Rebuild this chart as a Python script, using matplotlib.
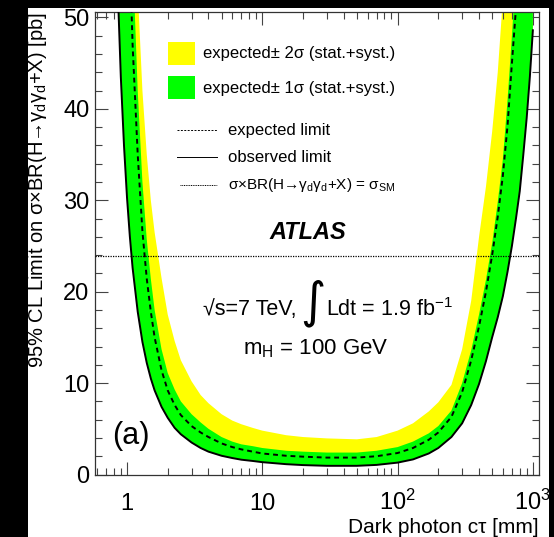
import matplotlib
matplotlib.use("Agg")
import matplotlib.pyplot as plt
from matplotlib.patches import Rectangle
from matplotlib.lines import Line2D
from matplotlib.ticker import FixedLocator, LogLocator, MultipleLocator, NullFormatter, FixedFormatter

plt.rcParams['font.family'] = ['Liberation Sans', 'DejaVu Sans']
plt.rcParams['mathtext.fontset'] = 'custom'
plt.rcParams['mathtext.rm'] = 'Liberation Sans'
plt.rcParams['mathtext.it'] = 'Liberation Sans:italic'
plt.rcParams['mathtext.bf'] = 'Liberation Sans:bold'

# dark photon proper decay length [mm]
ctau = [0.8, 0.85, 0.9, 0.95, 1.0, 1.05, 1.1, 1.2, 1.3, 1.4, 1.5, 1.6, 1.8, 2.0, 2.25,
        2.5, 3.0, 3.5, 4.0, 5.0, 6.0, 7.0, 8.5, 10, 15, 20, 30, 50, 70, 100, 130, 170,
        200, 250, 300, 350, 400, 450, 500, 550, 600, 650, 700, 750, 800, 850, 900, 950, 1000]

# 95% CL limits [pb]
observed = [69, 54, 43.5, 36, 30.3, 26, 22.6, 17.8, 14.5, 12.2, 10.5, 9.2, 7.4, 6.2, 5.1,
            4.4, 3.5, 2.9, 2.5, 2.05, 1.8, 1.62, 1.48, 1.35, 1.13, 1.03, 0.95, 0.95, 1.05, 1.3, 1.65, 2.3,
            2.9, 4.1, 5.6, 7.6, 9.9, 12.4, 15, 17.2, 19.5, 22.2, 25, 28, 31, 35, 39, 43.5, 48.6]
expected = [190, 141, 108, 85, 69, 56.3, 47, 35, 26.6, 21.4, 17.8, 15.0, 11.4, 9.2, 7.6,
            6.5, 5.3, 4.6, 4.1, 3.4, 3.0, 2.75, 2.5, 2.3, 2.05, 1.95, 1.85, 1.85, 2.0, 2.35, 2.9, 3.8,
            4.6, 6.3, 9.0, 12.5, 16.2, 20, 24, 28.2, 32.7, 38.2, 45, 51, 57, 63, 70, 77, 85]
expected_up1 = [230, 170, 130, 102, 83, 68, 57, 42, 32, 25.7, 21.4, 18, 13.7, 11.1, 9.3,
                8.0, 6.6, 5.7, 5.0, 4.1, 3.6, 3.3, 3.1, 2.9, 2.6, 2.5, 2.4, 2.4, 2.6, 3.0, 3.6, 4.5,
                5.3, 7.0, 10.0, 13.6, 17.5, 21.3, 25.3, 29.8, 34.5, 41, 48, 55, 62, 69, 77, 85, 93]
expected_up2 = [300, 230, 175, 135, 108, 88, 73, 53, 42, 35, 30, 26.5, 21.5, 17.5, 14.6,
                12.5, 10.2, 8.7, 7.8, 6.6, 5.9, 5.5, 5.1, 4.8, 4.3, 4.1, 3.95, 3.85, 4.1, 4.8, 5.6, 6.9,
                7.9, 9.8, 13.7, 19, 26, 31.5, 37.5, 44, 52, 60, 68, 77, 86, 95, 105, 115, 125]

sigma_sm = 23.9

x_ticks = [1, 10, 100, 1000]
x_ticklabels = ['1', '10', '10$^{2}$', '10$^{3}$']
y_ticks = [0, 10, 20, 30, 40, 50]

W, H = 554, 537


def fx(px):
    return px / W


def fy(py):
    return 1 - py / H


fig = plt.figure(figsize=(W / 100, H / 100), dpi=100, facecolor='black')
fig.add_artist(Rectangle((fx(28), 0), fx(549) - fx(28), fy(8), transform=fig.transFigure,
                         facecolor='white', edgecolor='none', zorder=-5))

ax = fig.add_axes([fx(95), fy(474.5), fx(539) - fx(95), fy(12) - fy(474.5)])
ax.set_xscale('log')

ax.fill_between(ctau, observed, expected_up2, color='#ffff00', lw=0, zorder=1)
ax.fill_between(ctau, observed, expected_up1, color='#00ff00', lw=0, zorder=2)
ax.plot(ctau, expected, color='black', ls=(0, (2.5, 2)), lw=1.4, zorder=3)
ax.plot(ctau, observed, color='black', ls='-', lw=1.4, zorder=4)
ax.axhline(sigma_sm, color='black', ls=(0, (1, 1)), lw=0.9, zorder=5)

ax.set_xlim(0.58, 1110)
ax.set_ylim(0, 50.6)

ax.xaxis.set_major_locator(FixedLocator(x_ticks))
ax.xaxis.set_major_formatter(FixedFormatter(x_ticklabels))
ax.xaxis.set_minor_locator(LogLocator(base=10, subs=range(2, 10), numticks=20))
ax.xaxis.set_minor_formatter(NullFormatter())
ax.yaxis.set_major_locator(FixedLocator(y_ticks))
ax.yaxis.set_minor_locator(MultipleLocator(2))

for sp in ax.spines.values():
    sp.set_color('#333333')
    sp.set_linewidth(0.9)

ax.tick_params(which='both', direction='in', top=True, right=True, color='#444444', width=0.8)
ax.tick_params(which='major', length=9.4)
ax.tick_params(which='minor', length=5)
ax.tick_params(axis='y', labelsize=17, pad=4)
ax.tick_params(axis='x', labelsize=17, pad=25.5)
for lab in ax.get_xticklabels():
    lab.set_verticalalignment('baseline')

# axis titles
fig.text(fx(539), fy(533), 'Dark photon c\u03c4 [mm]', fontsize=15, ha='right', va='baseline')
fig.text(fx(38), fy(190), '95% CL Limit on \u03c3\u00d7BR(H\u2192\u03b3$_{\\mathrm{d}}$\u03b3$_{\\mathrm{d}}$+X) [pb]',
         fontsize=14.5, rotation=90, ha='center', va='center')

# legend
fig.add_artist(Rectangle((fx(168), fy(65)), fx(195) - fx(168), fy(42) - fy(65), transform=fig.transFigure,
                         facecolor='#ffff00', edgecolor='none', zorder=6))
fig.add_artist(Rectangle((fx(168), fy(99)), fx(195) - fx(168), fy(76) - fy(99), transform=fig.transFigure,
                         facecolor='#00ff00', edgecolor='none', zorder=6))
fig.text(fx(203), fy(53), 'expected\u00b1 2\u03c3 (stat.+syst.)', fontsize=12, va='center', zorder=6)
fig.text(fx(203), fy(88), 'expected\u00b1 1\u03c3 (stat.+syst.)', fontsize=12, va='center', zorder=6)

fig.add_artist(Line2D([fx(177), fx(217)], [fy(130), fy(130)], transform=fig.transFigure, color='black',
                      ls=(0, (2, 1.5)), lw=0.7, zorder=6))
fig.add_artist(Line2D([fx(177), fx(217)], [fy(157), fy(157)], transform=fig.transFigure, color='black',
                      ls='-', lw=0.7, zorder=6))
fig.add_artist(Line2D([fx(180), fx(217)], [fy(185), fy(185)], transform=fig.transFigure, color='black',
                      ls=(0, (1, 0.8)), lw=0.7, zorder=6))
fig.text(fx(228), fy(130), 'expected limit', fontsize=12, va='center', zorder=6)
fig.text(fx(228), fy(157), 'observed limit', fontsize=12, va='center', zorder=6)
fig.text(fx(228), fy(185),
         '\u03c3\u00d7BR(H\u2192\u03b3$_{\\mathrm{d}}$\u03b3$_{\\mathrm{d}}$+X) = \u03c3$_{\\mathrm{SM}}$',
         fontsize=11, va='center', zorder=6)

# experiment and conditions
fig.text(fx(308), fy(233), 'ATLAS', fontsize=17, fontweight='bold', fontstyle='italic',
         ha='center', va='center')
fig.text(fx(203), fy(310), '\u221as=7 TeV,', fontsize=15.5, va='center')
fig.text(fx(313), fy(303), '\u222b', fontsize=35, ha='center', va='center', family='DejaVu Sans')
fig.text(fx(326), fy(310), 'Ldt = 1.9 fb$^{-1}$', fontsize=15.5, va='center')
fig.text(fx(243), fy(349), 'm$_{\\mathrm{H}}$ = 100 GeV', fontsize=16, va='center')
fig.text(fx(131), fy(436), '(a)', fontsize=22, ha='center', va='center')

fig.savefig('out.png', dpi=100, facecolor=fig.get_facecolor())
